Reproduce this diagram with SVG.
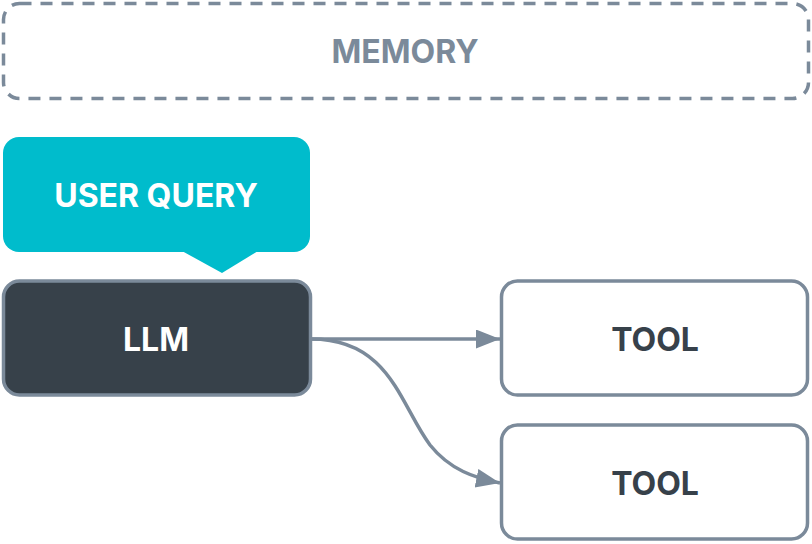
<svg xmlns="http://www.w3.org/2000/svg" width="812" height="544" viewBox="0 0 812 544">
<defs>
<style>
.lbl{font-family:Inter,"Liberation Sans",sans-serif;font-weight:700;font-size:32px;text-anchor:middle;dominant-baseline:central}
.edge{fill:none;stroke:#7b8a9a;stroke-width:3.5}
.tool{fill:#ffffff;stroke:#7b8a9a;stroke-width:3.5}
</style>
<marker id="ah" markerUnits="userSpaceOnUse" markerWidth="26" markerHeight="20" refX="24" refY="9.5" orient="auto" viewBox="0 0 26 20">
<path d="M0,0 L24,9.5 L0,19 Z" fill="#7b8a9a"/>
</marker>
</defs>
<g id="memory">
<rect x="3.5" y="3.5" width="805" height="95" rx="16" fill="none" stroke="#7b8a9a" stroke-width="3.5" stroke-dasharray="12 9"/>
<text class="lbl" x="405" y="51" fill="#7b8a9a">MEMORY</text>
</g>
<g id="user-query">
<rect x="3" y="137" width="307" height="115" rx="16" fill="#00bccc"/>
<path d="M182,251 L258,251 L222,273 Z" fill="#00bccc"/>
<text class="lbl" x="156" y="195" fill="#ffffff">USER QUERY</text>
</g>
<g id="llm">
<rect x="3.5" y="281" width="307" height="114" rx="16" fill="#37414a" stroke="#7b8a9a" stroke-width="3.5"/>
<text class="lbl" x="156" y="339" fill="#ffffff">LLM</text>
</g>
<g id="tool1">
<rect class="tool" x="501.5" y="281" width="306" height="114" rx="16"/>
<text class="lbl" x="655" y="339" fill="#37414a">TOOL</text>
</g>
<g id="tool2">
<rect class="tool" x="501.5" y="425" width="306" height="114" rx="16"/>
<text class="lbl" x="655" y="483" fill="#37414a">TOOL</text>
</g>
<g id="connectors">
<path class="edge" d="M311,339 L500,339" marker-end="url(#ah)"/>
<path class="edge" d="M311,339 C390,339 400,405 430,445 C450,470 475,478 500,483" marker-end="url(#ah)"/>
</g>
</svg>
